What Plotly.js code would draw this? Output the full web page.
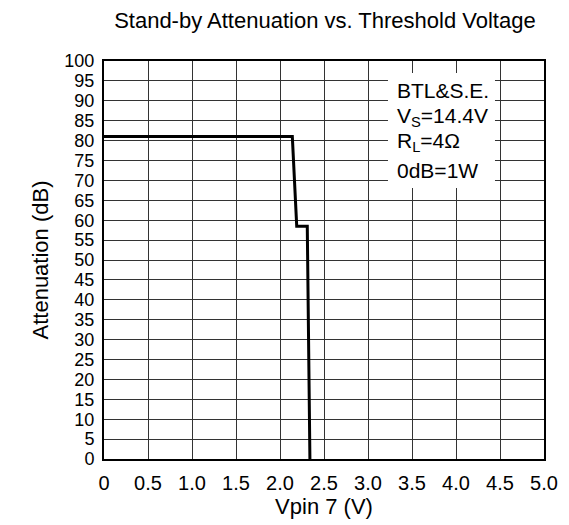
<!DOCTYPE html>
<html>
<head>
<meta charset="utf-8">
<script src="https://cdn.plot.ly/plotly-3.0.1.min.js"></script>
<style>html,body{margin:0;padding:0;background:#fff;}#chart{width:569px;height:525px;}</style>
</head>
<body>
<div id="chart"></div>
<script>
// Data
const vpin = [0, 2.14, 2.19, 2.31, 2.34];
const attenuation = [81, 81, 58.5, 58.5, 0];
const xTickVals = [0, 0.5, 1.0, 1.5, 2.0, 2.5, 3.0, 3.5, 4.0, 4.5, 5.0];
const xTickText = ["0", "0.5", "1.0", "1.5", "2.0", "2.5", "3.0", "3.5", "4.0", "4.5", "5.0"];
const yTickVals = [0,5,10,15,20,25,30,35,40,45,50,55,60,65,70,75,80,85,90,95,100];
const noteLines = ["BTL&S.E.", "V<sub>S</sub>=14.4V", "R<sub>L</sub>=4Ω", "0dB=1W"];
const noteY = [92.5, 85.9, 79.6, 72.5];

const font = "Liberation Sans, Arial, sans-serif";

const trace = {
  x: vpin, y: attenuation, type: "scatter", mode: "lines",
  line: {color: "#000", width: 3}, hoverinfo: "skip"
};

const annotations = noteLines.map((t, i) => ({
  x: 3.31, y: noteY[i], xref: "x", yref: "y", text: t, showarrow: false,
  xanchor: "left", yanchor: "middle", align: "left",
  font: {family: font, size: 21, color: "#000"}
}));

const layout = {
  width: 569, height: 525,
  margin: {l: 104, r: 25, t: 61, b: 66},
  paper_bgcolor: "#fff", plot_bgcolor: "#fff",
  showlegend: false,
  title: {text: "Stand-by Attenuation vs. Threshold Voltage", x: 0.571, xanchor: "center", y: 0.962, yanchor: "middle",
          font: {family: font, size: 22, color: "#000"}},
  xaxis: {
    range: [0, 5], tickvals: xTickVals, ticktext: xTickText,
    showgrid: true, gridcolor: "#333", gridwidth: 1,
    zeroline: false, showline: true, linecolor: "#000", linewidth: 2, mirror: true,
    ticks: "outside", ticklen: 5, tickcolor: "rgba(0,0,0,0)",
    tickfont: {family: font, size: 20, color: "#000"},
    title: {text: "Vpin 7 (V)", font: {family: font, size: 22, color: "#000"}, standoff: 3}
  },
  yaxis: {
    range: [0, 100], tickvals: yTickVals,
    showgrid: true, gridcolor: "#333", gridwidth: 1,
    zeroline: false, showline: true, linecolor: "#000", linewidth: 2, mirror: true,
    ticks: "outside", ticklen: 4, tickcolor: "rgba(0,0,0,0)",
    tickfont: {family: font, size: 18, color: "#000"},
    title: {text: "Attenuation (dB)", font: {family: font, size: 22, color: "#000"}, standoff: 10}
  },
  shapes: [{
    type: "rect", xref: "x", yref: "y", x0: 3.227, x1: 4.443, y0: 68.1, y1: 97,
    fillcolor: "#fff", line: {width: 0}, layer: "between"
  }],
  annotations: annotations
};

Plotly.newPlot("chart", [trace], layout, {staticPlot: true, displayModeBar: false});
</script>
</body>
</html>
